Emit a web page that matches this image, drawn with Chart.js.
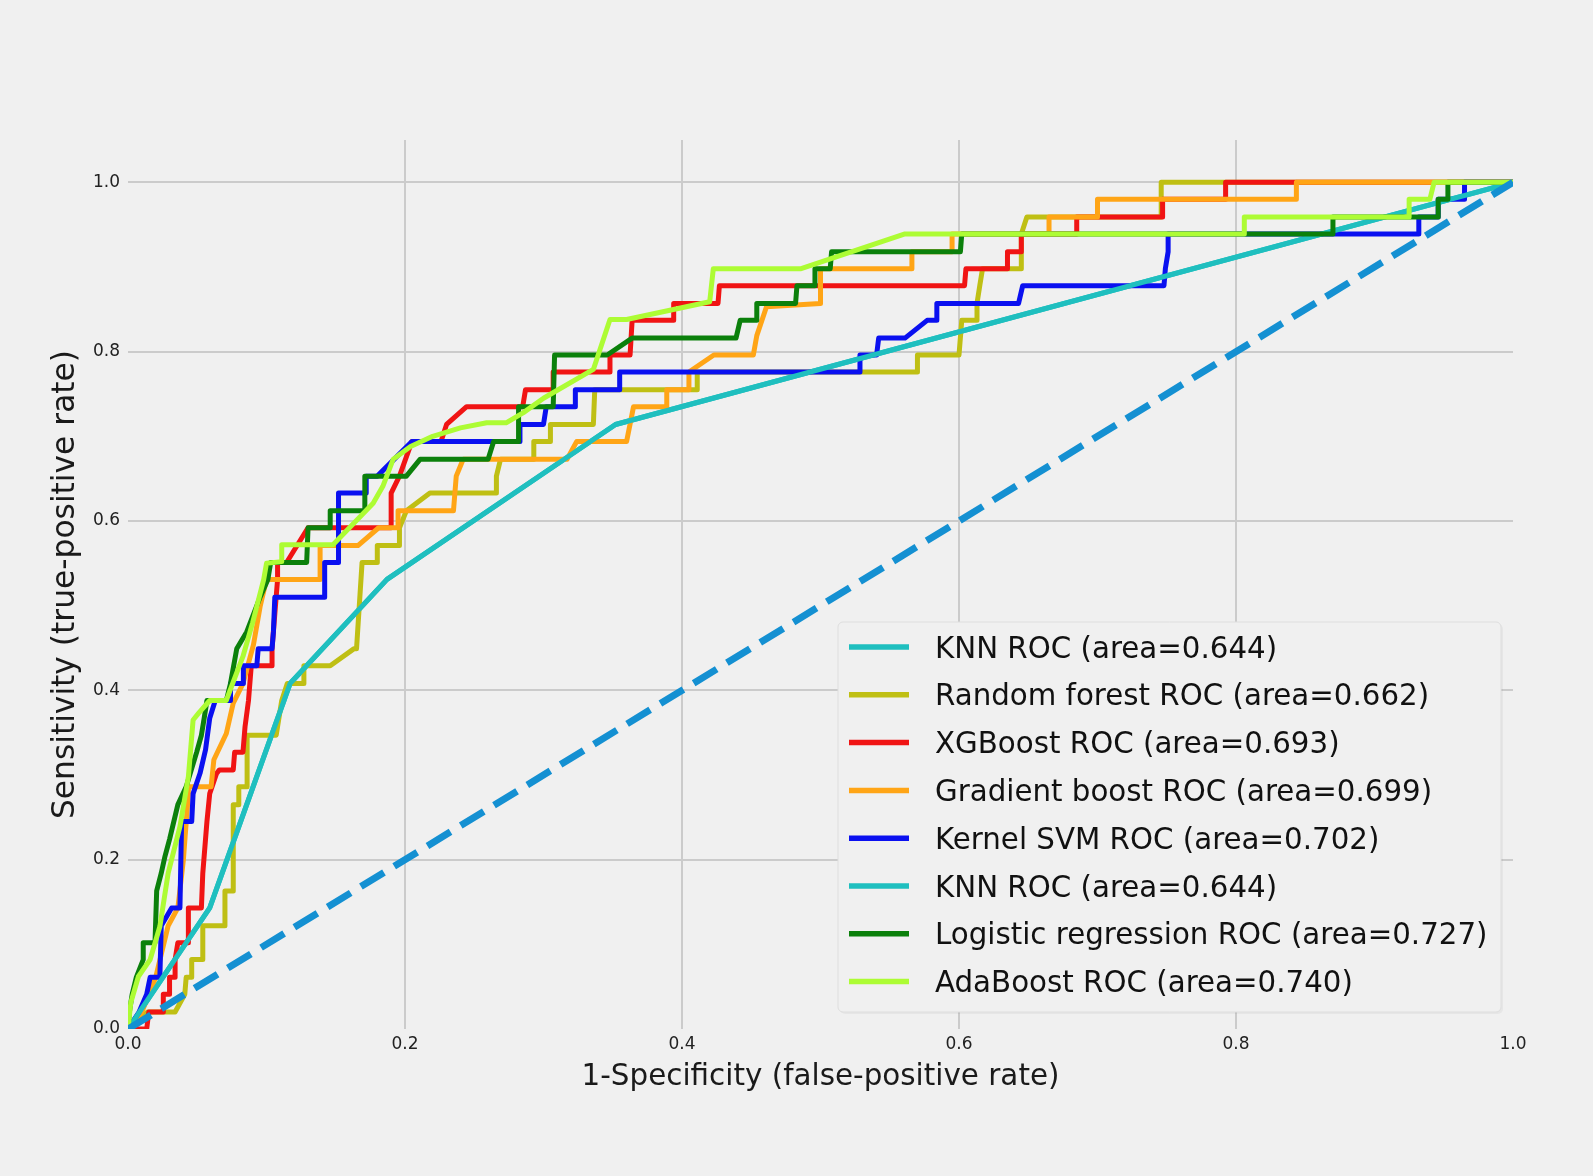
<!DOCTYPE html>
<html>
<head>
<meta charset="utf-8">
<script src="https://cdn.jsdelivr.net/npm/chart.js@4.4.1/dist/chart.umd.min.js"></script>
<style>
  html, body { margin: 0; padding: 0; background: #f0f0f0; }
  #wrap { width: 1593px; height: 1176px; }
</style>
</head>
<body>
<div id="wrap"><canvas id="c" width="1593" height="1176"></canvas></div>
<script>
// ---- data ----
const xTickValues = [0, 0.2, 0.4, 0.6, 0.8, 1.0];
const yTickValues = [0, 0.2, 0.4, 0.6, 0.8, 1.0];

const seriesLabels = [
  'KNN ROC (area=0.644)',
  'Random forest ROC (area=0.662)',
  'XGBoost ROC (area=0.693)',
  'Gradient boost ROC (area=0.699)',
  'Kernel SVM ROC (area=0.702)',
  'KNN ROC (area=0.644)',
  'Logistic regression ROC (area=0.727)',
  'AdaBoost ROC (area=0.740)'
];

const knnFpr = [0, 0.059, 0.117, 0.187, 0.352, 1.0];
const knnTpr = [0, 0.143, 0.408, 0.531, 0.714, 1.0];

const rfFpr = [0, 0.014, 0.034, 0.041, 0.042, 0.046, 0.046, 0.054, 0.054, 0.070, 0.070, 0.076, 0.076, 0.080, 0.080, 0.086, 0.086, 0.107, 0.111, 0.115, 0.127, 0.127, 0.146, 0.163, 0.165, 0.169, 0.180, 0.180, 0.196, 0.196, 0.201, 0.218, 0.266, 0.266, 0.269, 0.293, 0.293, 0.305, 0.305, 0.336, 0.337, 0.411, 0.411, 0.570, 0.570, 0.600, 0.602, 0.613, 0.613, 0.615, 0.617, 0.645, 0.645, 0.649, 0.746, 0.746, 1.0];
const rfTpr = [0, 0.020, 0.020, 0.041, 0.061, 0.061, 0.082, 0.082, 0.122, 0.122, 0.163, 0.163, 0.265, 0.265, 0.286, 0.286, 0.347, 0.347, 0.388, 0.408, 0.408, 0.429, 0.429, 0.449, 0.449, 0.551, 0.551, 0.571, 0.571, 0.592, 0.612, 0.633, 0.633, 0.653, 0.673, 0.673, 0.694, 0.694, 0.714, 0.714, 0.755, 0.755, 0.776, 0.776, 0.796, 0.796, 0.837, 0.837, 0.857, 0.878, 0.898, 0.898, 0.939, 0.959, 0.959, 1.0, 1.0];

const xgbFpr = [0, 0.0135, 0.015, 0.0255, 0.0255, 0.030, 0.030, 0.034, 0.034, 0.036, 0.0436, 0.0436, 0.053, 0.054, 0.057, 0.059, 0.064, 0.066, 0.076, 0.077, 0.083, 0.0845, 0.087, 0.089, 0.104, 0.104, 0.106, 0.108, 0.108, 0.1145, 0.130, 0.190, 0.190, 0.196, 0.205, 0.226, 0.230, 0.2445, 0.285, 0.287, 0.307, 0.307, 0.348, 0.348, 0.3625, 0.364, 0.394, 0.394, 0.426, 0.427, 0.604, 0.605, 0.635, 0.635, 0.645, 0.645, 0.685, 0.685, 0.747, 0.747, 0.7925, 0.7925, 1.0];
const xgbTpr = [0, 0, 0.020, 0.020, 0.041, 0.041, 0.061, 0.061, 0.082, 0.102, 0.102, 0.143, 0.143, 0.184, 0.245, 0.278, 0.302, 0.306, 0.306, 0.327, 0.327, 0.357, 0.388, 0.429, 0.429, 0.449, 0.490, 0.531, 0.551, 0.551, 0.592, 0.592, 0.633, 0.653, 0.694, 0.694, 0.714, 0.735, 0.735, 0.755, 0.755, 0.776, 0.776, 0.796, 0.796, 0.837, 0.837, 0.857, 0.857, 0.878, 0.878, 0.898, 0.898, 0.918, 0.918, 0.939, 0.939, 0.959, 0.959, 0.980, 0.980, 1.0, 1.0];

const gbFpr = [0, 0.010, 0.020, 0.029, 0.036, 0.040, 0.0436, 0.0436, 0.060, 0.062, 0.071, 0.076, 0.083, 0.0906, 0.0954, 0.100, 0.1387, 0.1387, 0.166, 0.181, 0.195, 0.195, 0.235, 0.237, 0.242, 0.317, 0.324, 0.360, 0.365, 0.389, 0.389, 0.405, 0.405, 0.423, 0.4515, 0.454, 0.461, 0.4997, 0.500, 0.566, 0.566, 0.595, 0.595, 0.665, 0.665, 0.700, 0.700, 0.8436, 0.8436, 1.0];
const gbTpr = [0, 0.020, 0.061, 0.122, 0.143, 0.200, 0.2785, 0.286, 0.286, 0.318, 0.349, 0.385, 0.408, 0.454, 0.499, 0.531, 0.531, 0.571, 0.571, 0.592, 0.592, 0.612, 0.612, 0.653, 0.673, 0.673, 0.694, 0.694, 0.735, 0.735, 0.755, 0.755, 0.776, 0.796, 0.796, 0.819, 0.853, 0.857, 0.898, 0.898, 0.918, 0.918, 0.939, 0.939, 0.959, 0.959, 0.980, 0.980, 1.0, 1.0];

const svmFpr = [0, 0.008, 0.0135, 0.016, 0.023, 0.024, 0.0315, 0.0375, 0.0387, 0.046, 0.047, 0.052, 0.056, 0.059, 0.063, 0.074, 0.074, 0.0833, 0.0833, 0.093, 0.094, 0.104, 0.105, 0.106, 0.142, 0.142, 0.152, 0.152, 0.172, 0.172, 0.180, 0.205, 0.283, 0.283, 0.300, 0.302, 0.323, 0.323, 0.355, 0.355, 0.5285, 0.5285, 0.5405, 0.542, 0.561, 0.577, 0.584, 0.584, 0.643, 0.646, 0.748, 0.749, 0.751, 0.751, 0.932, 0.932, 0.946, 0.946, 0.965, 0.965, 1.0];
const svmTpr = [0, 0.020, 0.041, 0.061, 0.061, 0.122, 0.143, 0.143, 0.245, 0.245, 0.278, 0.302, 0.330, 0.367, 0.388, 0.388, 0.408, 0.408, 0.429, 0.429, 0.449, 0.449, 0.469, 0.510, 0.510, 0.551, 0.551, 0.633, 0.633, 0.653, 0.653, 0.694, 0.694, 0.714, 0.714, 0.735, 0.735, 0.755, 0.755, 0.776, 0.776, 0.796, 0.796, 0.816, 0.816, 0.837, 0.837, 0.857, 0.857, 0.878, 0.878, 0.898, 0.918, 0.939, 0.939, 0.959, 0.959, 0.980, 0.980, 1.0, 1.0];

const lrFpr = [0, 0.001, 0.003, 0.006, 0.011, 0.011, 0.0195, 0.0207, 0.024, 0.0267, 0.030, 0.036, 0.042, 0.0496, 0.053, 0.055, 0.057, 0.071, 0.074, 0.0785, 0.0857, 0.0954, 0.101, 0.103, 0.129, 0.130, 0.146, 0.146, 0.171, 0.171, 0.201, 0.211, 0.260, 0.264, 0.282, 0.282, 0.307, 0.308, 0.346, 0.364, 0.439, 0.442, 0.454, 0.454, 0.482, 0.483, 0.496, 0.496, 0.507, 0.508, 0.601, 0.602, 0.870, 0.870, 0.946, 0.946, 0.953, 0.953, 1.0];
const lrTpr = [0, 0.020, 0.041, 0.061, 0.082, 0.102, 0.102, 0.163, 0.184, 0.204, 0.224, 0.265, 0.286, 0.327, 0.347, 0.367, 0.388, 0.388, 0.408, 0.449, 0.469, 0.510, 0.531, 0.551, 0.551, 0.592, 0.592, 0.612, 0.612, 0.653, 0.653, 0.673, 0.673, 0.694, 0.694, 0.735, 0.735, 0.796, 0.796, 0.816, 0.816, 0.837, 0.837, 0.857, 0.857, 0.878, 0.878, 0.898, 0.898, 0.918, 0.918, 0.939, 0.939, 0.959, 0.959, 0.980, 0.980, 1.0, 1.0];

const adaFpr = [0, 0.002, 0.0075, 0.016, 0.023, 0.029, 0.0375, 0.0436, 0.047, 0.051, 0.059, 0.071, 0.076, 0.083, 0.090, 0.098, 0.100, 0.111, 0.111, 0.148, 0.177, 0.184, 0.1915, 0.204, 0.220, 0.240, 0.259, 0.273, 0.2855, 0.300, 0.336, 0.348, 0.360, 0.420, 0.4226, 0.486, 0.561, 0.806, 0.806, 0.925, 0.925, 0.940, 0.943, 1.0];
const adaTpr = [0, 0.031, 0.062, 0.082, 0.121, 0.184, 0.239, 0.298, 0.365, 0.373, 0.388, 0.388, 0.410, 0.440, 0.480, 0.531, 0.550, 0.552, 0.572, 0.572, 0.621, 0.641, 0.673, 0.688, 0.700, 0.710, 0.716, 0.716, 0.728, 0.745, 0.779, 0.838, 0.838, 0.859, 0.898, 0.898, 0.939, 0.939, 0.959, 0.959, 0.980, 0.980, 1.0, 1.0];

const chanceFpr = [0, 1];
const chanceTpr = [0, 1];

// ---- styling ----
const seriesColors = ['#1fbfbf', '#bfbf14', '#f01414', '#ffa516', '#0a10f0', '#1fbfbf', '#0b800b', '#adfc34'];
const chanceColor = '#1490d2';
const FONT = "'DejaVu Sans', 'Liberation Sans', sans-serif";

function toPoints(xs, ys) { return xs.map((x, i) => ({ x: x, y: ys[i] })); }

const seriesData = [
  [knnFpr, knnTpr], [rfFpr, rfTpr], [xgbFpr, xgbTpr], [gbFpr, gbTpr],
  [svmFpr, svmTpr], [knnFpr, knnTpr], [lrFpr, lrTpr], [adaFpr, adaTpr]
];

const total = seriesData.length + 1;
const datasets = seriesData.map((d, i) => ({
  label: seriesLabels[i],
  data: toPoints(d[0], d[1]),
  borderColor: seriesColors[i],
  backgroundColor: seriesColors[i],
  borderWidth: 5,
  pointRadius: 0,
  tension: 0,
  fill: false,
  borderJoinStyle: 'round',
  borderCapStyle: 'round',
  order: total - 1 - i
}));
datasets.push({
  label: 'chance',
  data: toPoints(chanceFpr, chanceTpr),
  borderColor: chanceColor,
  borderWidth: 7,
  borderDash: [27, 12],
  borderCapStyle: 'butt',
  pointRadius: 0,
  fill: false,
  order: 0
});

const bgPlugin = {
  id: 'bg',
  beforeDraw(chart) {
    const ctx = chart.ctx;
    ctx.save();
    ctx.fillStyle = '#f0f0f0';
    ctx.fillRect(0, 0, chart.width, chart.height);
    ctx.restore();
  }
};

function roundRect(ctx, x, y, w, h, r) {
  ctx.beginPath();
  ctx.moveTo(x + r, y);
  ctx.lineTo(x + w - r, y);
  ctx.arcTo(x + w, y, x + w, y + r, r);
  ctx.lineTo(x + w, y + h - r);
  ctx.arcTo(x + w, y + h, x + w - r, y + h, r);
  ctx.lineTo(x + r, y + h);
  ctx.arcTo(x, y + h, x, y + h - r, r);
  ctx.lineTo(x, y + r);
  ctx.arcTo(x, y, x + r, y, r);
  ctx.closePath();
}

const legendPlugin = {
  id: 'rocLegend',
  afterDraw(chart) {
    const ctx = chart.ctx;
    const area = chart.chartArea;
    const boxR = area.right - 12, boxB = area.bottom - 17;
    const boxW = 663, boxH = 390;
    const boxL = boxR - boxW, boxT = boxB - boxH;
    ctx.save();
    roundRect(ctx, boxL + 2, boxT + 2, boxW, boxH, 5);
    ctx.fillStyle = 'rgba(0,0,0,0.04)';
    ctx.fill();
    roundRect(ctx, boxL, boxT, boxW, boxH, 5);
    ctx.fillStyle = '#f0f0f0';
    ctx.fill();
    ctx.lineWidth = 1;
    ctx.strokeStyle = '#dedede';
    ctx.stroke();
    const rowH = 47.8;
    const firstY = boxT + 25;
    ctx.font = '29.3px ' + FONT;
    ctx.textAlign = 'left';
    ctx.textBaseline = 'alphabetic';
    seriesLabels.forEach((lab, i) => {
      const y = firstY + i * rowH;
      ctx.beginPath();
      ctx.moveTo(boxL + 11, y);
      ctx.lineTo(boxL + 71, y);
      ctx.strokeStyle = seriesColors[i];
      ctx.lineWidth = 5.5;
      ctx.lineCap = 'butt';
      ctx.stroke();
      ctx.fillStyle = '#111111';
      ctx.fillText(lab, boxL + 97, y + 10.5);
    });
    ctx.restore();
  }
};

const gridColor = (c) => {
  const v = c.tick ? c.tick.value : null;
  return (v === 0 || v === 1 && c.scale.axis === 'x') ? 'rgba(0,0,0,0)' : '#cbcbcb';
};

new Chart(document.getElementById('c'), {
  type: 'line',
  data: { datasets: datasets },
  options: {
    responsive: false,
    animation: false,
    devicePixelRatio: 1,
    layout: { padding: { left: 0, right: 80, top: 140, bottom: 0 } },
    plugins: {
      legend: { display: false },
      tooltip: { enabled: false },
      title: { display: false }
    },
    scales: {
      x: {
        type: 'linear',
        position: 'bottom',
        min: 0,
        max: 1,
        afterFit: (s) => { s.height = 147; },
        afterBuildTicks: (s) => { s.ticks = xTickValues.map(v => ({ value: v })); },
        ticks: {
          callback: (v) => Number(v).toFixed(1),
          font: { family: FONT, size: 17 },
          color: '#222222',
          padding: 5,
          maxRotation: 0,
          autoSkip: false
        },
        grid: { color: gridColor, lineWidth: 2, drawTicks: false },
        border: { display: false },
        title: {
          display: true,
          text: '1-Specificity (false-positive rate)',
          font: { family: FONT, size: 29.4 },
          color: '#1a1a1a',
          padding: { top: 0, bottom: 81 }
        }
      },
      y: {
        type: 'linear',
        position: 'left',
        min: 0,
        max: 1.05,
        afterFit: (s) => { s.width = 128; },
        afterBuildTicks: (s) => { s.ticks = yTickValues.map(v => ({ value: v })); },
        ticks: {
          callback: (v) => Number(v).toFixed(1),
          font: { family: FONT, size: 17 },
          color: '#222222',
          padding: 8
        },
        grid: { color: gridColor, lineWidth: 2, drawTicks: false },
        border: { display: false },
        title: {
          display: true,
          text: 'Sensitivity (true-positive rate)',
          font: { family: FONT, size: 31.3 },
          color: '#1a1a1a',
          padding: { top: 47, bottom: 0 }
        }
      }
    }
  },
  plugins: [bgPlugin, legendPlugin]
});
</script>
</body>
</html>
